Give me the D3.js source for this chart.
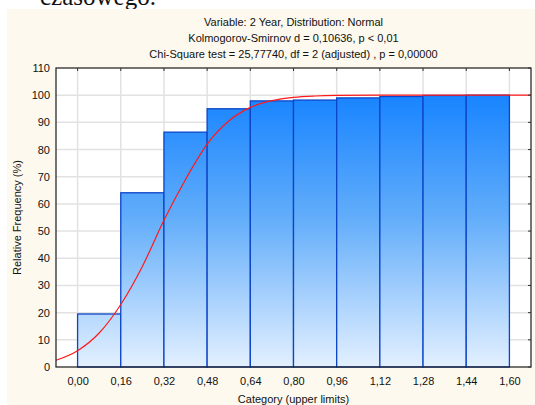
<!DOCTYPE html>
<html>
<head>
<meta charset="utf-8">
<script src="https://cdn.jsdelivr.net/npm/d3@7"></script>
<style>
  html, body { margin: 0; padding: 0; background: #ffffff; }
  svg { display: block; }
  text { font-family: "Liberation Sans", Arial, sans-serif; fill: #111; }
</style>
</head>
<body>
<svg id="chart" width="535" height="405"></svg>
<script>
// Histogram of cumulative relative frequency, bins of width 0.16
const binEdges = [0.00, 0.16, 0.32, 0.48, 0.64, 0.80, 0.96, 1.12, 1.28, 1.44, 1.60];
const xTickLabels = ["0,00", "0,16", "0,32", "0,48", "0,64", "0,80", "0,96", "1,12", "1,28", "1,44", "1,60"];
const cumPercent = [19.5, 64.1, 86.4, 95.0, 97.9, 98.2, 99.0, 99.5, 99.9, 100.0];

// Expected normal curve (cumulative %), sampled along the category axis
const curveX = [-0.08, 0.00, 0.08, 0.16, 0.24, 0.32, 0.40, 0.48, 0.56, 0.64, 0.72, 0.80, 0.88, 0.96, 1.12, 1.28, 1.68];
const curveY = [2.5, 6.0, 12.5, 23.0, 37.0, 54.0, 69.0, 82.0, 90.5, 95.5, 98.0, 99.2, 99.7, 99.9, 100.0, 100.0, 100.0];

const yTicks = [0, 10, 20, 30, 40, 50, 60, 70, 80, 90, 100, 110];

const titleLines = [
  "Variable: 2 Year, Distribution: Normal",
  "Kolmogorov-Smirnov d = 0,10636, p < 0,01",
  "Chi-Square test = 25,77740, df = 2 (adjusted) , p = 0,00000"
];

const svg = d3.select("#chart");

// Running text above the figure
svg.append("text")
  .attr("x", 40).attr("y", 5)
  .style("font-family", "'Liberation Serif', 'Times New Roman', serif")
  .style("font-size", "25px")
  .text("czasowego.");

// Figure panel
svg.append("rect")
  .attr("x", 7).attr("y", 9).attr("width", 528).attr("height", 396)
  .attr("fill", "#fdf9ee");

const plot = { left: 56, right: 531, top: 68, bottom: 367 };

const x = d3.scaleLinear().domain([-0.08, 1.68]).range([plot.left, plot.right]);
const y = d3.scaleLinear().domain([0, 110]).range([plot.bottom, plot.top]);

// Plot background
svg.append("rect")
  .attr("x", plot.left).attr("y", plot.top)
  .attr("width", plot.right - plot.left).attr("height", plot.bottom - plot.top)
  .attr("fill", "#ffffff");

// Bar gradient in plot coordinates
const defs = svg.append("defs");
const grad = defs.append("linearGradient")
  .attr("id", "barGrad")
  .attr("gradientUnits", "userSpaceOnUse")
  .attr("x1", 0).attr("x2", 0)
  .attr("y1", y(100)).attr("y2", y(0));
grad.append("stop").attr("offset", 0).attr("stop-color", "#1884ff");
grad.append("stop").attr("offset", 0.45).attr("stop-color", "#62adfa");
grad.append("stop").attr("offset", 1).attr("stop-color", "#e3f0ff");

// Grid
const grid = svg.append("g");
grid.selectAll("line.v").data(binEdges).join("line")
  .attr("x1", d => x(d)).attr("x2", d => x(d))
  .attr("y1", plot.top).attr("y2", plot.bottom)
  .attr("stroke", "#e2e2e2").attr("stroke-width", 1.5);
grid.selectAll("line.h").data(yTicks.slice(1, -1)).join("line")
  .attr("x1", plot.left).attr("x2", plot.right)
  .attr("y1", d => y(d)).attr("y2", d => y(d))
  .attr("stroke", "#e2e2e2").attr("stroke-width", 1.5);

// Bars
const bars = cumPercent.map((v, i) => ({ x0: binEdges[i], x1: binEdges[i + 1], v }));
svg.append("g").selectAll("rect").data(bars).join("rect")
  .attr("x", d => x(d.x0))
  .attr("y", d => y(d.v))
  .attr("width", d => x(d.x1) - x(d.x0))
  .attr("height", d => y(0) - y(d.v))
  .attr("fill", "url(#barGrad)")
  .attr("stroke", "#0d45c8")
  .attr("stroke-width", 1.3);

// Expected normal curve
const curvePts = curveX.map((cx, i) => [cx, curveY[i]]);
svg.append("path")
  .datum(curvePts)
  .attr("fill", "none")
  .attr("stroke", "#ff1a1a")
  .attr("stroke-width", 1.2)
  .attr("d", d3.line().x(d => x(d[0])).y(d => y(d[1])).curve(d3.curveMonotoneX));

// Frame
svg.append("rect")
  .attr("x", plot.left).attr("y", plot.top)
  .attr("width", plot.right - plot.left).attr("height", plot.bottom - plot.top)
  .attr("fill", "none").attr("stroke", "#1a1a1a").attr("stroke-width", 1.2);

// Axes
const yAxis = d3.axisLeft(y).tickValues(yTicks).tickSize(0).tickPadding(6);
svg.append("g").attr("transform", `translate(${plot.left},0)`).call(yAxis)
  .call(g => g.select(".domain").remove())
  .call(g => g.selectAll("text").style("font-size", "11px").style("font-family", "'Liberation Sans', Arial, sans-serif").attr("fill", "#111"));

const xAxis = d3.axisBottom(x).tickValues(binEdges)
  .tickFormat((d, i) => xTickLabels[i]).tickSize(0).tickPadding(10);
svg.append("g").attr("transform", `translate(0,${plot.bottom})`).call(xAxis)
  .call(g => g.select(".domain").remove())
  .call(g => g.selectAll("text").style("font-size", "11px").style("font-family", "'Liberation Sans', Arial, sans-serif").attr("fill", "#111"));

// Small mirrored ticks on top and right edges
svg.append("g").selectAll("line").data(binEdges).join("line")
  .attr("x1", d => x(d)).attr("x2", d => x(d))
  .attr("y1", plot.top).attr("y2", plot.top + 3)
  .attr("stroke", "#333");
svg.append("g").selectAll("line").data(yTicks).join("line")
  .attr("x1", plot.right - 3).attr("x2", plot.right)
  .attr("y1", d => y(d)).attr("y2", d => y(d))
  .attr("stroke", "#333");

// Titles
svg.append("g").selectAll("text").data(titleLines).join("text")
  .attr("x", (plot.left + plot.right) / 2)
  .attr("y", (d, i) => 26 + i * 16)
  .attr("text-anchor", "middle")
  .style("font-size", "11px")
  .text(d => d);

// Axis titles
svg.append("text")
  .attr("x", (plot.left + plot.right) / 2).attr("y", 403)
  .attr("text-anchor", "middle")
  .style("font-size", "11px")
  .text("Category (upper limits)");

svg.append("text")
  .attr("transform", `translate(21,${(plot.top + plot.bottom) / 2}) rotate(-90)`)
  .attr("text-anchor", "middle")
  .style("font-size", "11px")
  .text("Relative Frequency (%)");
</script>
</body>
</html>
